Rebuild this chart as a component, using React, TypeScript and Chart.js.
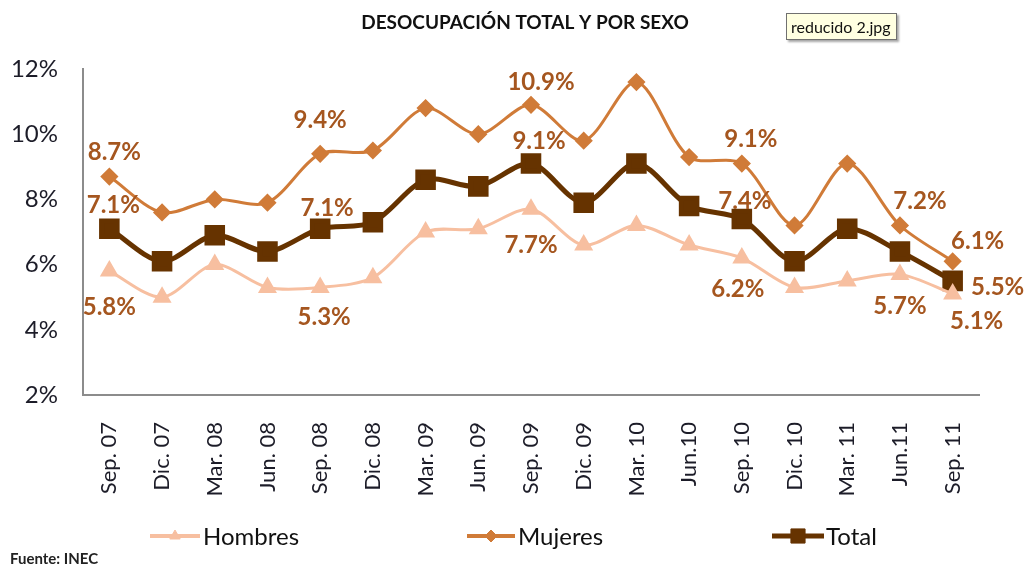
import React, { useEffect, useRef } from "react";
import { Chart, registerables } from "chart.js";
import { drawPoint } from "chart.js/helpers";

Chart.register(...registerables);

const categories = [
  "Sep. 07", "Dic. 07", "Mar. 08", "Jun. 08", "Sep. 08", "Dic. 08", "Mar. 09", "Jun. 09",
  "Sep. 09", "Dic. 09", "Mar. 10", "Jun.10", "Sep. 10", "Dic. 10", "Mar. 11", "Jun.11", "Sep. 11",
];
const hombres = [5.8, 5.0, 6.0, 5.3, 5.3, 5.6, 7.0, 7.1, 7.7, 6.6, 7.2, 6.6, 6.2, 5.3, 5.5, 5.7, 5.1];
const mujeres = [8.7, 7.6, 8.0, 7.9, 9.4, 9.5, 10.8, 10.0, 10.9, 9.8, 11.6, 9.3, 9.1, 7.2, 9.1, 7.2, 6.1];
const total = [7.1, 6.1, 6.9, 6.4, 7.1, 7.3, 8.6, 8.4, 9.1, 7.9, 9.1, 7.8, 7.4, 6.1, 7.1, 6.4, 5.5];
const yTicks = [2, 4, 6, 8, 10, 12];

const titleText = "DESOCUPACIÓN TOTAL Y POR SEXO";
const sourceText = "Fuente: INEC";
const tooltipText = "reducido 2.jpg";

const COLORS = {
  hombres: "#F7BFA0",
  mujeres: "#D07B38",
  total: "#663300",
  label: "#A5561F",
  axis: "#8C8C8C",
  text: "#1C1C28",
};

// Which points carry a value label, with label offsets from the point (style config)
const labelSpec: Record<number, { i: number; dx: number; dy: number }[]> = {
  0: [ // Hombres
    { i: 0, dx: 0, dy: 36 }, { i: 4, dx: 4, dy: 30 }, { i: 8, dx: 0, dy: 36 },
    { i: 12, dx: -4, dy: 31 }, { i: 15, dx: 0, dy: 32 }, { i: 16, dx: 24, dy: 27 },
  ],
  1: [ // Mujeres
    { i: 0, dx: 5, dy: -24 }, { i: 4, dx: 0, dy: -33 }, { i: 8, dx: 10, dy: -23 },
    { i: 12, dx: 9, dy: -24 }, { i: 15, dx: 20, dy: -24 }, { i: 16, dx: 25, dy: -20 },
  ],
  2: [ // Total
    { i: 0, dx: 4, dy: -23 }, { i: 4, dx: 7, dy: -20 }, { i: 8, dx: 8, dy: -22 },
    { i: 12, dx: 3, dy: -18 }, { i: 16, dx: 45, dy: 6 },
  ],
};

const legendSpec = [
  { ds: 0, x0: 150, x1: 200, tx: 203 },
  { ds: 1, x0: 467, x1: 515, tx: 518 },
  { ds: 2, x0: 772, x1: 824, tx: 826 },
];

const FONT = "Lato, 'Open Sans', sans-serif";

const decorPlugin = {
  id: "decor",
  afterDatasetsDraw(chart: any) {
    const ctx = chart.ctx;
    ctx.save();
    ctx.font = `bold 24px ${FONT}`;
    ctx.fillStyle = COLORS.label;
    ctx.textAlign = "center";
    ctx.textBaseline = "middle";
    Object.keys(labelSpec).forEach((k) => {
      const di = Number(k);
      const meta = chart.getDatasetMeta(di);
      const data = chart.data.datasets[di].data as number[];
      labelSpec[di].forEach(({ i, dx, dy }) => {
        const p = meta.data[i];
        ctx.fillText(`${data[i].toFixed(1)}%`, p.x + dx, p.y + dy);
      });
    });
    ctx.restore();
  },
  afterDraw(chart: any) {
    const ctx = chart.ctx;
    ctx.save();
    // title
    ctx.font = `bold 19px ${FONT}`;
    ctx.fillStyle = "#111";
    ctx.textAlign = "center";
    ctx.textBaseline = "middle";
    ctx.fillText(titleText, 525, 23);

    // legend
    const ly = 536;
    legendSpec.forEach(({ ds, x0, x1, tx }) => {
      const d: any = chart.data.datasets[ds];
      ctx.strokeStyle = d.borderColor;
      ctx.lineWidth = ds === 2 ? 5 : 4;
      ctx.beginPath();
      ctx.moveTo(x0, ly);
      ctx.lineTo(x1, ly);
      ctx.stroke();
      ctx.fillStyle = d.pointBackgroundColor;
      ctx.strokeStyle = d.pointBorderColor;
      ctx.lineWidth = 1;
      drawPoint(ctx, { pointStyle: d.pointStyle, rotation: 0, borderWidth: 1, radius: ds === 2 ? 10 : 6 }, (x0 + x1) / 2, ly);
      ctx.fillStyle = "#111";
      ctx.font = `24px ${FONT}`;
      ctx.textAlign = "left";
      ctx.textBaseline = "middle";
      ctx.fillText(d.label, tx, ly + 1);
    });

    // source
    ctx.font = `bold 15px ${FONT}`;
    ctx.fillStyle = "#222";
    ctx.textAlign = "left";
    ctx.textBaseline = "middle";
    ctx.fillText(sourceText, 10, 559);
    ctx.restore();
  },
};

export default function App() {
  const ref = useRef<HTMLCanvasElement | null>(null);

  useEffect(() => {
    if (!ref.current) return;
    const chart = new Chart(ref.current, {
      type: "line",
      data: {
        labels: categories,
        datasets: [
          {
            label: "Hombres",
            data: hombres,
            borderColor: COLORS.hombres,
            backgroundColor: COLORS.hombres,
            pointBackgroundColor: COLORS.hombres,
            pointBorderColor: COLORS.hombres,
            pointStyle: "triangle",
            pointRadius: 8,
            borderWidth: 3,
            tension: 0.3,
          },
          {
            label: "Mujeres",
            data: mujeres,
            borderColor: COLORS.mujeres,
            backgroundColor: COLORS.mujeres,
            pointBackgroundColor: COLORS.mujeres,
            pointBorderColor: COLORS.mujeres,
            pointStyle: "rectRot",
            pointRadius: 7,
            borderWidth: 3,
            tension: 0.3,
          },
          {
            label: "Total",
            data: total,
            borderColor: COLORS.total,
            backgroundColor: COLORS.total,
            pointBackgroundColor: COLORS.total,
            pointBorderColor: COLORS.total,
            pointStyle: "rect",
            pointRadius: 11,
            borderWidth: 5,
            tension: 0.3,
          },
        ],
      },
      options: {
        responsive: false,
        animation: false,
        devicePixelRatio: 1,
        layout: { padding: { left: 0, right: 50, top: 69, bottom: 0 } },
        plugins: {
          legend: { display: false },
          title: { display: false },
          tooltip: { enabled: false },
        },
        scales: {
          x: {
            offset: true,
            grid: { display: false, drawTicks: false },
            border: { display: true, color: COLORS.axis, width: 2 },
            ticks: {
              maxRotation: 90,
              minRotation: 90,
              autoSkip: false,
              padding: 27,
              color: COLORS.text,
              font: { family: FONT, size: 22 },
            },
            afterFit: (s: any) => { s.height = 172; },
          },
          y: {
            min: 2,
            max: 12,
            afterBuildTicks: (s: any) => { s.ticks = yTicks.map((v) => ({ value: v })); },
            grid: { display: false, drawTicks: false },
            border: { display: true, color: COLORS.axis, width: 2 },
            ticks: {
              padding: 25,
              color: COLORS.text,
              font: { family: FONT, size: 24 },
              callback: (v: any) => `${v}%`,
            },
            afterFit: (s: any) => { s.width = 83; },
          },
        },
      },
      plugins: [decorPlugin],
    });
    return () => chart.destroy();
  }, []);

  return (
    <div style={{ position: "fixed", left: 0, top: 0, width: 1029, height: 567, background: "#fff" }}>
      <canvas ref={ref} width={1029} height={567} style={{ display: "block" }} />
      <div
        style={{
          position: "absolute",
          left: 786,
          top: 13,
          width: 111,
          height: 27,
          boxSizing: "border-box",
          background: "#FFFFE1",
          border: "1px solid #707070",
          boxShadow: "2px 2px 2px rgba(0,0,0,0.35)",
          fontFamily: FONT,
          fontSize: 16,
          color: "#111",
          lineHeight: "25px",
          paddingLeft: 4,
          whiteSpace: "nowrap",
        }}
      >
        {tooltipText}
      </div>
    </div>
  );
}
